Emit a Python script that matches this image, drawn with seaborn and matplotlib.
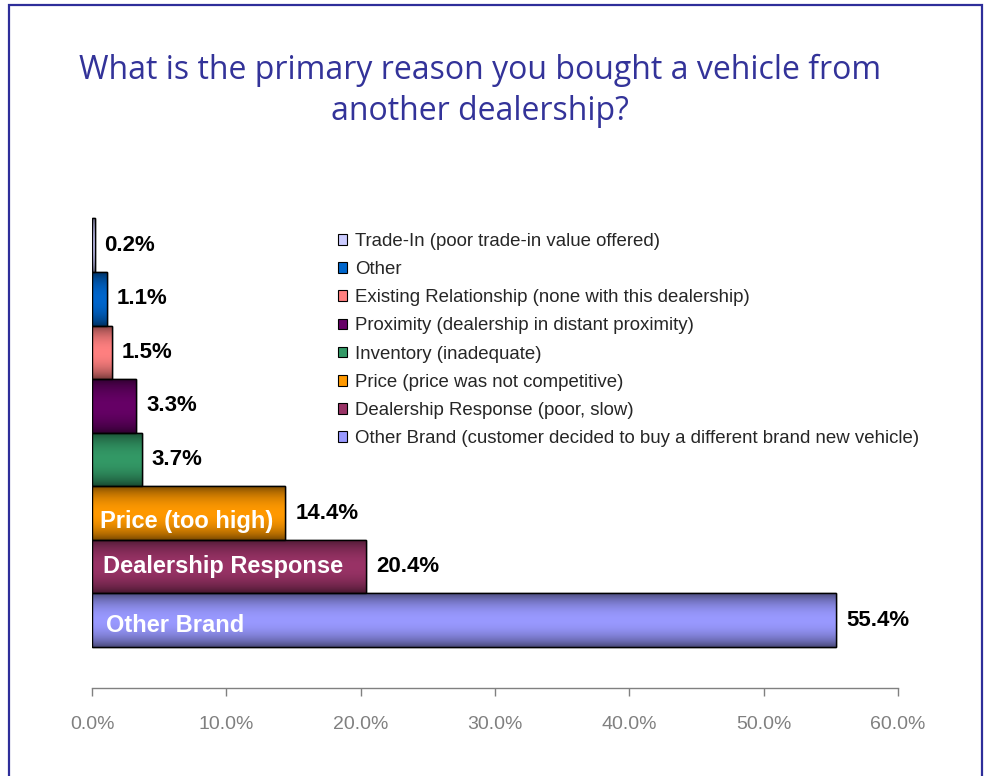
import numpy as np
import matplotlib
matplotlib.use("Agg")
import matplotlib.pyplot as plt
from matplotlib.patches import Rectangle
from matplotlib.colors import to_rgb
import seaborn as sns
import pandas as pd

# ---- data ----
categories = [
    "Trade-In (poor trade-in value offered)",
    "Other",
    "Existing Relationship (none with this dealership)",
    "Proximity (dealership in distant proximity)",
    "Inventory (inadequate)",
    "Price (price was not competitive)",
    "Dealership Response (poor, slow)",
    "Other Brand (customer decided to buy a different brand new vehicle)",
]
values = [0.2, 1.1, 1.5, 3.3, 3.7, 14.4, 20.4, 55.4]
inner_labels = ["", "", "", "", "", "Price (too high)", "Dealership Response", "Other Brand"]
colors = ["#CCCCFF", "#0066CC", "#FF8080", "#660066", "#339966", "#FF9900", "#993366", "#9999FF"]
xticks = [0, 10, 20, 30, 40, 50, 60]
title = "What is the primary reason you bought a vehicle from\nanother dealership?"

sns.set_theme(style="white")
plt.rcParams["font.family"] = ["Liberation Sans", "DejaVu Sans"]

W, H = 988, 776
fig = plt.figure(figsize=(W / 100, H / 100), dpi=100)
fig.patch.set_facecolor("white")

# frame
fig.patches.append(Rectangle((9 / W, -0.05), (982 - 9) / W, (H - 5) / H + 0.05,
                             transform=fig.transFigure, fill=False,
                             edgecolor="#2E2E9A", linewidth=1.6, zorder=0))

ax = fig.add_axes([92 / W, (H - 688) / H, 806 / W, 475 / H])

df = pd.DataFrame({"cat": categories, "val": values})
sns.barplot(data=df, x="val", y="cat", hue="cat", palette=colors, orient="h",
            width=1.0, edgecolor="black", linewidth=1.0, legend=False, ax=ax, saturation=1)

# gradient shading on bars
grad_t = np.linspace(0, 1, 64)
shade = 0.45 + 0.55 * np.sin(np.pi * grad_t) ** 0.7
for patch, col in zip(list(ax.patches), colors):
    rgb = np.array(to_rgb(col))
    img = (shade[:, None] * rgb[None, :])[:, None, :]
    x0, y0 = patch.get_x(), patch.get_y()
    w, h = patch.get_width(), patch.get_height()
    im = ax.imshow(img, extent=(x0, x0 + w, y0 + h, y0), aspect="auto",
                   interpolation="bilinear", zorder=patch.get_zorder() + 0.1)
    im.set_clip_path(patch)
    edge = Rectangle((x0, y0), w, h, fill=False, edgecolor="black",
                     linewidth=1.0, zorder=patch.get_zorder() + 0.2)
    ax.add_patch(edge)

ax.set_xlim(0, 60)
ax.set_ylim(7 + 1.265, -0.6)

# value labels
for i, v in enumerate(values):
    ax.annotate(f"{v:.1f}%", xy=(v, i), xytext=(7, 0), textcoords="offset points",
                ha="left", va="center", fontsize=16, fontweight="bold", color="black",
                zorder=5)

inner_dy = [0, 0, 0, 0, 0, 0.15, 0.0, 0.1]
inner_dx = [0, 0, 0, 0, 0, 6, 8, 10]
for i, lab in enumerate(inner_labels):
    if lab:
        ax.annotate(lab, xy=(0, i + inner_dy[i]), xytext=(inner_dx[i], 0),
                    textcoords="offset points", ha="left", va="center",
                    fontsize=17, fontweight="bold", color="white", zorder=5)

# axes styling
for s in ["left", "right", "top"]:
    ax.spines[s].set_visible(False)
ax.spines["bottom"].set_color("#808080")
ax.spines["bottom"].set_linewidth(1.0)
ax.set_xticks(xticks)
ax.set_xticklabels([f"{t:.1f}%" for t in xticks])
ax.tick_params(axis="x", colors="#808080", labelcolor="#808080", length=6,
               width=1.0, direction="out", pad=14, labelsize=14, bottom=True)
ax.tick_params(axis="y", left=False, labelleft=False)
ax.set_xlabel("")
ax.set_ylabel("")

# legend
handles = [Rectangle((0, 0), 1, 1, facecolor=c, edgecolor="black", linewidth=0.8) for c in colors]
fig.legend(handles, categories, loc="upper left", bbox_to_anchor=(338 / W, 1 - 233 / H),
           frameon=False, fontsize=13.4, handlelength=0.5, handleheight=0.5,
           handletextpad=0.4, labelspacing=0.6, borderaxespad=0, borderpad=0)

# title
fig.text(480 / W, 1 - 91 / H, title, ha="center", va="center", fontsize=23,
         color="#333399", family=["Open Sans", "DejaVu Sans"], linespacing=1.3)

fig.savefig("out.png", dpi=100, facecolor="white")
